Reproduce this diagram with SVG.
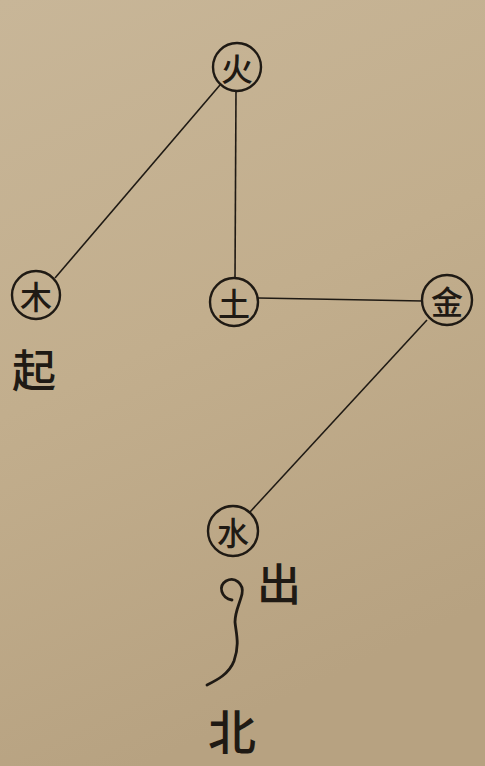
<svg xmlns="http://www.w3.org/2000/svg" width="485" height="766" viewBox="0 0 485 766">
<defs>
<linearGradient id="bg" x1="0" y1="0" x2="0.3" y2="1">
<stop offset="0" stop-color="#c8b698"/>
<stop offset="0.5" stop-color="#c2ae8d"/>
<stop offset="1" stop-color="#b7a281"/>
</linearGradient>
<style>
.c{fill:none;stroke:#1f1a14;stroke-width:2.4}
.e{fill:none;stroke:#1f1a14;stroke-width:1.6}
.t{font-family:"Noto Sans CJK SC","Noto Sans CJK TC",sans-serif;fill:#1f1a14;text-anchor:middle;dominant-baseline:central;font-weight:500}
.n{font-size:32px}
.l{font-size:44px}
</style>
</defs>
<rect width="485" height="766" fill="url(#bg)"/>
<g id="connectors">
<line class="e" x1="220" y1="85" x2="55" y2="278"/>
<line class="e" x1="236" y1="91" x2="235" y2="279"/>
<line class="e" x1="258" y1="298" x2="423" y2="301"/>
<line class="e" x1="427" y1="320" x2="250" y2="512"/>
<path class="e" style="stroke-width:2.8;stroke-linecap:round" d="M232,600 C221,598 218,586 226,581 C235,576 244,584 242,594 C240,603 235,611 235,622 C236,633 240,644 234,661 C229,674 217,680 207,685"/>
</g>
<g id="fire"><circle class="c" cx="237" cy="67" r="24"/><text class="t n" x="237" y="67">火</text></g>
<g id="wood"><circle class="c" cx="36" cy="295" r="24"/><text class="t n" x="36" y="295">木</text></g>
<g id="earth"><circle class="c" cx="234" cy="302" r="24"/><text class="t n" x="234" y="302">土</text></g>
<g id="metal"><circle class="c" cx="447" cy="300" r="25"/><text class="t n" x="447" y="300">金</text></g>
<g id="water"><circle class="c" cx="233" cy="531" r="25"/><text class="t n" x="233" y="531">水</text></g>
<g id="labels">
<text class="t l" x="34" y="368">起</text>
<text class="t l" x="279" y="582">出</text>
<text class="t l" style="font-size:48px" x="232" y="729">北</text>
</g>
</svg>
